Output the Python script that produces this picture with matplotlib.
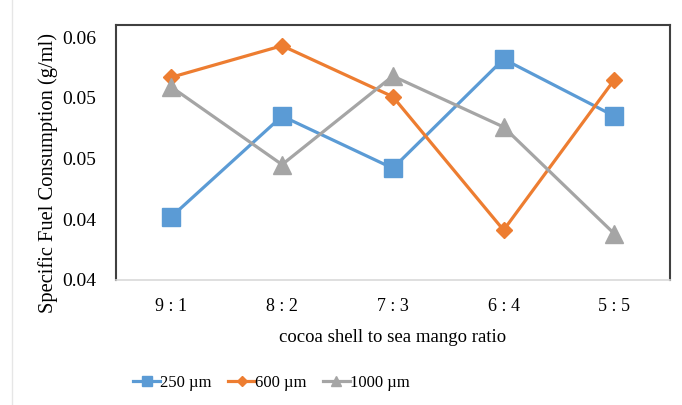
import matplotlib
matplotlib.use("Agg")
import matplotlib.pyplot as plt
from matplotlib.lines import Line2D

# data
ratios = ["9 : 1", "8 : 2", "7 : 3", "6 : 4", "5 : 5"]
sfc_250 = [0.0452, 0.0535, 0.0492, 0.0582, 0.0535]
sfc_600 = [0.0567, 0.0593, 0.0551, 0.0441, 0.0565]
sfc_1000 = [0.0559, 0.0495, 0.0568, 0.0526, 0.0438]
ytick_vals = [0.040, 0.045, 0.050, 0.055, 0.060]
ytick_labels = ["0.04", "0.04", "0.05", "0.05", "0.06"]

plt.rcParams['font.family'] = ['Liberation Serif', 'DejaVu Serif']

fig = plt.figure(figsize=(6.82, 4.05), dpi=100)
ax = fig.add_axes([0.170, 0.309, 0.812, 0.629])

x = list(range(len(ratios)))
ax.plot(x, sfc_250, color="#5B9BD5", lw=2.3, marker="s", ms=13.5, label="250 µm")
ax.plot(x, sfc_600, color="#ED7D31", lw=2.3, marker="D", ms=8.5, label="600 µm")
ax.plot(x, sfc_1000, color="#A5A5A5", lw=2.3, marker="^", ms=13.5, label="1000 µm")

ax.set_xlim(-0.5, 4.5)
ax.set_ylim(0.04, 0.061)
ax.set_xticks(x)
ax.set_xticklabels(ratios, fontsize=13)
ax.set_yticks(ytick_vals)
ax.set_yticklabels(ytick_labels, fontsize=14)
ax.tick_params(axis="x", length=0, pad=13)
ax.tick_params(axis="y", length=0, pad=14)

for s in ["top", "right", "left"]:
    ax.spines[s].set_color("#404040")
    ax.spines[s].set_linewidth(1.5)
ax.spines["bottom"].set_color("#D9D9D9")
ax.spines["bottom"].set_linewidth(1.2)

ax.set_xlabel("cocoa shell to sea mango ratio", fontsize=13.5, labelpad=10)
ax.set_ylabel("Specific Fuel Consumption (g/ml)", fontsize=14.8)
ax.yaxis.set_label_coords(-0.105, 0.42)

handles = [
    Line2D([], [], color="#5B9BD5", lw=2.3, marker="s", ms=7),
    Line2D([], [], color="#ED7D31", lw=2.3, marker="D", ms=5),
    Line2D([], [], color="#A5A5A5", lw=2.3, marker="^", ms=7),
]
fig.legend(handles, ["250 µm", "600 µm", "1000 µm"], loc="center",
           bbox_to_anchor=(0.398, 0.054), ncol=3, frameon=False, fontsize=12,
           handlelength=1.6, handletextpad=0.0, columnspacing=1.0)

# faint page edge on the left
fig.add_artist(Line2D([12 / 682, 12 / 682], [0, 1], color="#E6E6E6", lw=1,
                      transform=fig.transFigure))

fig.savefig("out.png", dpi=100)
